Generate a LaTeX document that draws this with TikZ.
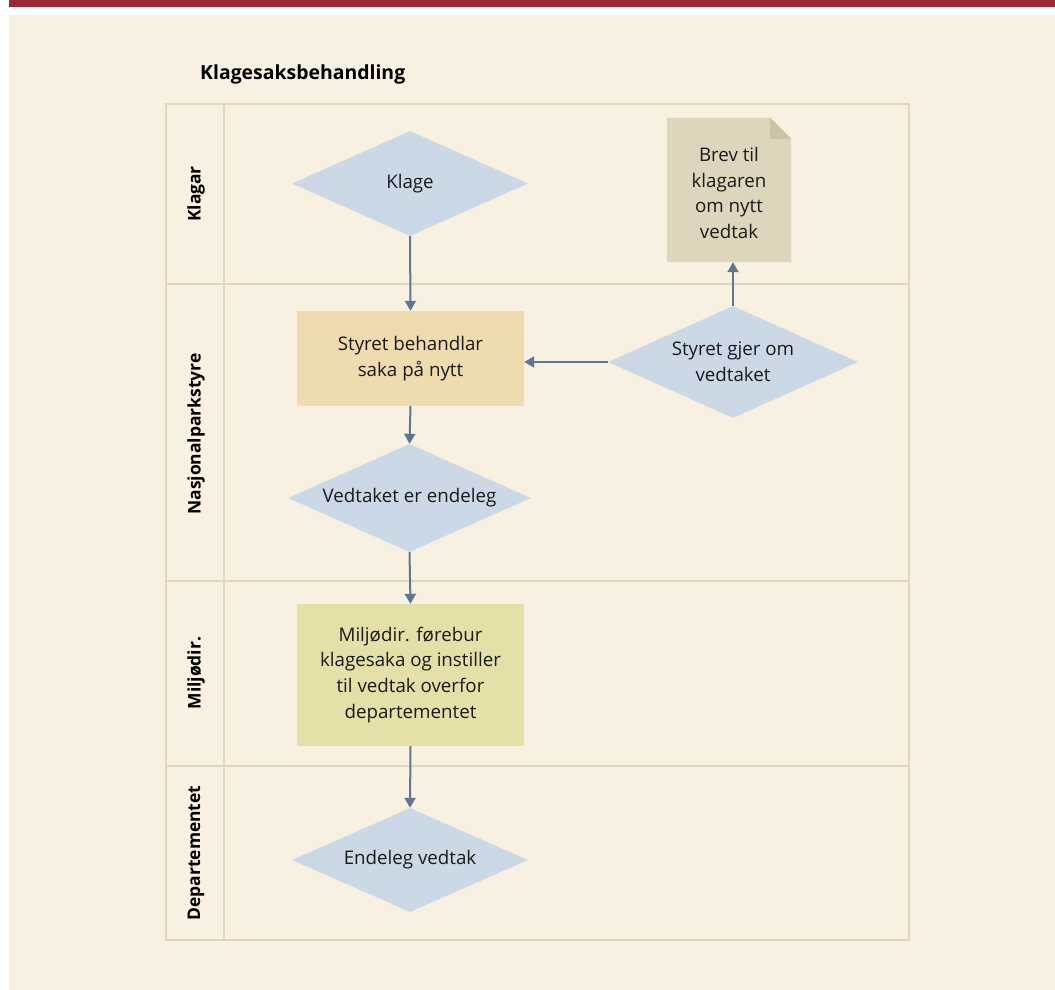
\documentclass[tikz,border=0pt]{standalone}
\usepackage{fontspec}
\setmainfont{Open Sans}
\usetikzlibrary{shapes.geometric,arrows.meta}
\definecolor{redbar}{HTML}{9E2936}
\definecolor{bgc}{HTML}{F8F0E1}
\definecolor{lanec}{HTML}{E0D7BE}
\definecolor{diac}{HTML}{CBD9E6}
\definecolor{orangec}{HTML}{EEDBAE}
\definecolor{greenc}{HTML}{E5E0A8}
\definecolor{notec}{HTML}{DDD5BC}
\definecolor{foldc}{HTML}{CCC3A6}
\definecolor{arrc}{HTML}{5F7691}
\definecolor{txtc}{HTML}{1A1A1A}
\tikzset{
  lane/.style={draw=lanec, line width=1.8bp},
  body/.style={font=\fontsize{18.8}{26}\selectfont, text=txtc, align=center},
  dia/.style={body, diamond, fill=diac, aspect=2.25, inner sep=0pt},
  boxc/.style={body, rectangle, inner sep=0pt},
  lanelabel/.style={rotate=90, font=\bfseries\fontsize{17.5}{20}\selectfont, text=black},
  arr/.style={draw=arrc, line width=2bp, -{Triangle[width=11bp,length=10bp]}}
}
\begin{document}
\begin{tikzpicture}[x=1bp,y=-1bp]
\useasboundingbox (0,0) rectangle (1055,990);
\fill[white] (0,0) rectangle (1055,990);
\fill[redbar] (9,0) rectangle (1055,7);
\fill[bgc] (9,15) rectangle (1055,990);

% title
\node[anchor=west, inner sep=0pt, font=\bfseries\fontsize{19.5}{22}\selectfont, text=black] (title) at (200,74) {Klagesaksbehandling};

% lanes
\draw[lane] (166,104) rectangle (909,940);
\draw[lane] (224,104) -- (224,940);
\draw[lane] (166,284) -- (909,284);
\draw[lane] (166,581) -- (909,581);
\draw[lane] (166,766) -- (909,766);

\node[lanelabel] (l1) at (196,194) {Klagar};
\node[lanelabel] (l2) at (196,434) {Nasjonalparkstyre};
\node[lanelabel] (l3) at (196,673) {Miljødir.};
\node[lanelabel] (l4) at (196,853) {Departementet};

% nodes
\node[dia, minimum width=236bp, minimum height=105bp] (klage) at (410,183.5) {Klage};
\node[boxc, fill=orangec, minimum width=227bp, minimum height=95bp] (beh) at (410.5,358.5) {Styret behandlar\\saka på nytt};
\node[dia, minimum width=250bp, minimum height=112bp] (gjer) at (733,362) {Styret gjer om\\vedtaket};
\node[boxc, minimum width=124bp, minimum height=144bp] (brev) at (729,190) {};
\node[dia, minimum width=243bp, minimum height=108bp] (endeleg) at (409.5,498) {Vedtaket er endeleg};
\node[boxc, fill=greenc, minimum width=227bp, minimum height=142bp] (milj) at (410.5,675) {Miljødir. førebur\\klagesaka og instiller\\til vedtak overfor\\departementet};
\node[dia, minimum width=236bp, minimum height=104bp] (vedtak) at (410,860) {Endeleg vedtak};

% note shape behind text
\fill[notec] (brev.north west) -- ([xshift=-21bp]brev.north east) -- ([yshift=-21bp]brev.north east) -- (brev.south east) -- (brev.south west) -- cycle;
\fill[foldc] ([xshift=-21bp]brev.north east) -- ([yshift=-21bp]brev.north east) -- ([xshift=-21bp,yshift=-21bp]brev.north east) -- cycle;
\node[boxc] (brevtxt) at ([yshift=-3bp]brev.center) {Brev til\\klagaren\\om nytt\\vedtak};

% arrows
\draw[arr] (klage.south) -- (beh.north);
\draw[arr] (beh.south) -- (endeleg.north);
\draw[arr] (endeleg.south) -- (milj.north);
\draw[arr] (milj.south) -- (vedtak.north);
\draw[arr] (gjer.west) -- (gjer.west -| beh.east);
\draw[arr] (gjer.north) -- (gjer.north |- brev.south);
\end{tikzpicture}
\end{document}
